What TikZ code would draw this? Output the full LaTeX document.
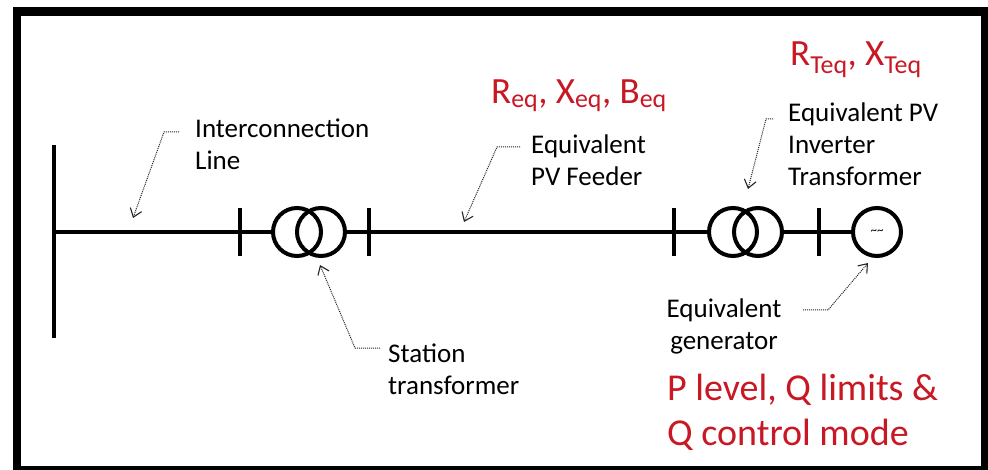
\documentclass[tikz,border=0pt]{standalone}
\usepackage{fontspec}
\usetikzlibrary{arrows.meta}
\setmainfont{Carlito}
\definecolor{labelred}{RGB}{200,24,36}
\tikzset{
  busbar/.style={fill=black,inner sep=0pt,minimum width=4pt,minimum height=#1},
  winding/.style={draw,circle,line width=4pt,inner sep=0pt,minimum size=48pt},
  leader/.style={-{Straight Barb[length=8pt,width=12pt,line width=1.1pt]},densely dotted,line width=1pt,black!85},
  blacktext/.style={anchor=west,align=left,inner sep=0pt,font=\fontsize{27}{32}\selectfont},
  redtext/.style={anchor=west,align=left,inner sep=0pt,text=labelred,font=\fontsize{#1}{45}\selectfont},
}
\begin{document}
\begin{tikzpicture}[x=1pt,y=-1pt]
\useasboundingbox (0,0) rectangle (988,470);
\fill[black] (13,7) rectangle (988,470);
\fill[white] (21,16) rectangle (981,466);
\draw (54,241.5) node[busbar=193pt] (bus) {};
\draw (240,232) node[busbar=48pt] (tickA) {};
\draw (369,232) node[busbar=48pt] (tickB) {};
\draw (674,232) node[busbar=48pt] (tickC) {};
\draw (819,232) node[busbar=48pt] (tickD) {};
\draw (297,232) node[winding] (stationA) {};
\draw (321,232) node[winding] (stationB) {};
\draw (733,232) node[winding] (inverterA) {};
\draw (758,232) node[winding] (inverterB) {};
\draw (877,232) node[winding,font=\fontsize{13}{13}\selectfont] (gen) {\textasciitilde\textasciitilde};
\coordinate (busTap) at (54,232);
\draw[line width=3.5pt] (busTap) -- (tickA.center) -- (stationA);
\draw[line width=3.5pt] (stationB) -- (tickB.center) -- (tickC.center) -- (inverterA);
\draw[line width=3.5pt] (inverterB) -- (tickD.center) -- (gen);
\draw (195,144) node[blacktext] (lineLabel) {Interconnection\\Line};
\draw (531,160) node[blacktext] (feederLabel) {Equivalent\\PV Feeder};
\draw (788,144) node[blacktext] (inverterLabel) {Equivalent PV\\Inverter\\Transformer};
\draw (388,369) node[blacktext] (stationLabel) {Station\\transformer};
\draw (724,326) node[blacktext,anchor=center,align=center] (genLabel) {Equivalent\\generator};
\draw (491,96) node[redtext=37] (feederData) {R\textsubscript{eq}, X\textsubscript{eq}, B\textsubscript{eq}};
\draw (790,60) node[redtext=37] (inverterData) {R\textsubscript{Teq}, X\textsubscript{Teq}};
\draw (667,412) node[redtext=38] (genData) {P level, Q limits \&\\Q control mode};
\coordinate (lineFrom) at (179,132);
\coordinate (lineBend) at (164,132);
\coordinate (lineTip) at (133,218);
\coordinate (feederFrom) at (520,147);
\coordinate (feederBend) at (497,147);
\coordinate (feederTip) at (464,222);
\coordinate (stationFrom) at (380,348);
\coordinate (stationBend) at (355,348);
\coordinate (stationTip) at (320,265);
\coordinate (inverterFrom) at (773,119);
\coordinate (inverterBend) at (766,119);
\coordinate (inverterTip) at (748,189);
\coordinate (genFrom) at (803,310);
\coordinate (genBend) at (828,310);
\coordinate (genTip) at (868,263);
\draw[leader] (lineFrom) -- (lineBend) -- (lineTip);
\draw[leader] (feederFrom) -- (feederBend) -- (feederTip);
\draw[leader] (stationFrom) -- (stationBend) -- (stationTip);
\draw[leader] (inverterFrom) -- (inverterBend) -- (inverterTip);
\draw[leader] (genFrom) -- (genBend) -- (genTip);
\end{tikzpicture}
\end{document}
